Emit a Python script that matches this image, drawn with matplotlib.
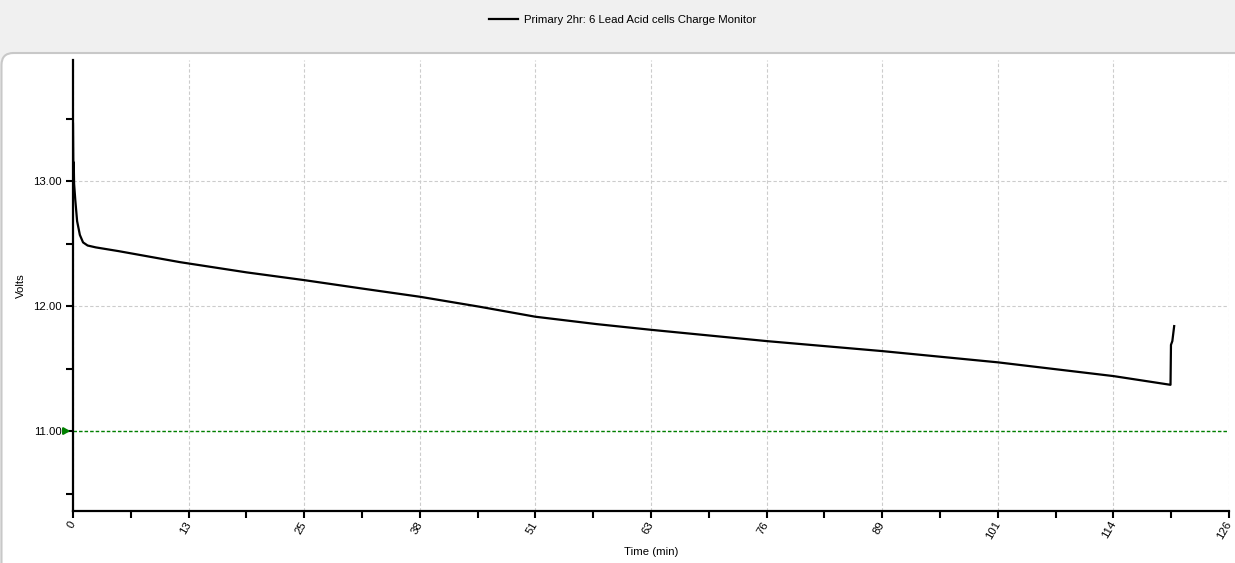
import matplotlib
matplotlib.use("Agg")
import matplotlib.pyplot as plt
from matplotlib.patches import FancyBboxPatch
from matplotlib.ticker import FixedLocator

plt.rcParams['font.family'] = ['Liberation Sans', 'DejaVu Sans']

# charge monitor trace
time_min = [0, 0.05, 0.08, 0.12, 0.25, 0.45, 0.75, 1.1, 1.6, 2.5, 5, 11.7, 19,
            25.3, 31.7, 37.95, 44.5, 50.6, 57.3, 63.3, 75.9, 88.55, 101.2,
            113.85, 120.1, 120.15, 120.3, 120.5]
volts = [13.46, 13.0, 13.15, 12.98, 12.85, 12.68, 12.57, 12.51, 12.485, 12.47,
         12.44, 12.352, 12.27, 12.208, 12.14, 12.075, 11.995, 11.915, 11.856,
         11.81, 11.72, 11.64, 11.55, 11.44, 11.37, 11.69, 11.72, 11.84]

series_name = "Primary 2hr: 6 Lead Acid cells Charge Monitor"
cutoff_volts = 11.0

x_tick_step = 12.65
x_tick_labels = ['0', '13', '25', '38', '51', '63', '76', '89', '101', '114', '126']
y_ticks = [11.0, 12.0, 13.0]
y_minor = [10.5, 11.5, 12.5, 13.5]

fig = plt.figure(figsize=(12.35, 5.63), dpi=100, facecolor='#f0f0f0')

# white rounded panel under the plot
panel = FancyBboxPatch((0.015, -0.3), 12.6, 5.10 + 0.3,
                       boxstyle='round,pad=0,rounding_size=0.12',
                       transform=fig.dpi_scale_trans, facecolor='white',
                       edgecolor='#c8c8c8', linewidth=1.5, zorder=-5)
fig.patches.append(panel)

ax = fig.add_axes([73 / 1235, 1 - 511 / 563, (1229 - 73) / 1235, (511 - 60) / 563])
ax.set_facecolor('none')
ax.set_zorder(2)

line, = ax.plot(time_min, volts, color='black', linewidth=1.6, zorder=3)
ax.axhline(cutoff_volts, color='#008000', linewidth=1.0, linestyle=(0, (2.5, 1.5)), zorder=2)
ax.annotate('', xy=(0, cutoff_volts), xytext=(-7, 0), textcoords='offset points',
            arrowprops=dict(arrowstyle='-|>,head_length=0.35,head_width=0.2',
                            color='#008000', lw=1.6),
            annotation_clip=False)

ax.set_xlim(0, x_tick_step * 10)
ax.set_ylim(10.36, 13.97)

ax.xaxis.set_major_locator(FixedLocator([x_tick_step * i for i in range(11)]))
ax.xaxis.set_minor_locator(FixedLocator([x_tick_step * (i + 0.5) for i in range(10)]))
ax.set_xticklabels(x_tick_labels, rotation=60, ha='right', va='center',
                   rotation_mode='anchor', fontsize=8.2)
ax.set_yticks(y_ticks)
ax.set_yticklabels([f"{v:.2f}" for v in y_ticks], fontsize=8.2)
ax.yaxis.set_minor_locator(FixedLocator(y_minor))

ax.tick_params(axis='both', which='major', length=5, width=1.5, direction='out', pad=3)
ax.tick_params(axis='both', which='minor', length=5, width=1.5, direction='out')
ax.tick_params(axis='x', which='major', pad=3)

ax.grid(True, which='major', color='#cccccc', linewidth=0.8, linestyle=(0, (3, 2)))
for side in ['top', 'right']:
    ax.spines[side].set_visible(False)
for side in ['left', 'bottom']:
    ax.spines[side].set_linewidth(1.6)

ax.set_xlabel("Time (min)", fontsize=8.2, labelpad=4)
ax.set_ylabel("Volts", fontsize=8.2, labelpad=5)

fig.legend([line], [series_name], loc='center', bbox_to_anchor=(0.504, 1 - 20 / 563),
           frameon=False, fontsize=8.2, handlelength=2.6, handletextpad=0.5)

fig.savefig('out.png', dpi=100, facecolor=fig.get_facecolor())
